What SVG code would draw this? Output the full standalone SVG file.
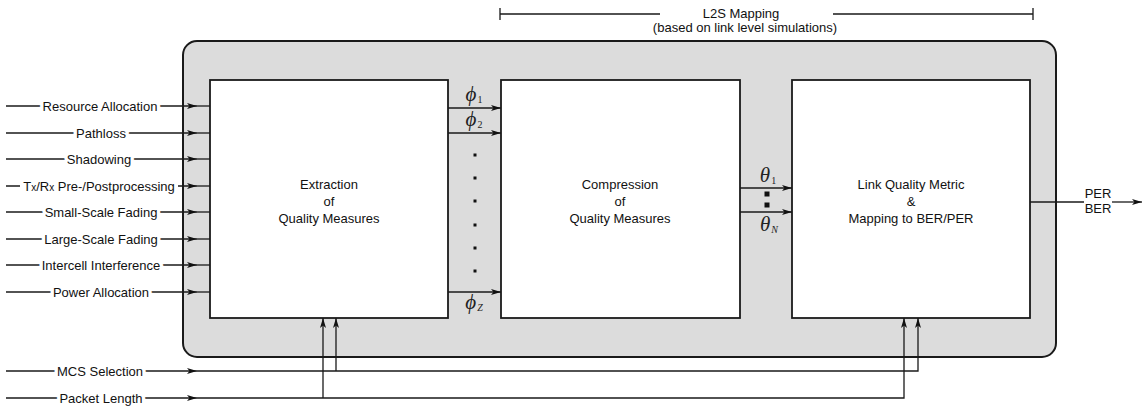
<svg xmlns="http://www.w3.org/2000/svg" width="1146" height="410" viewBox="0 0 1146 410">
<style>
.lbl{font-family:"Liberation Sans",Arial,sans-serif;font-size:13px;fill:#111;text-anchor:middle}
.halo{stroke:#fff;stroke-width:7;stroke-linejoin:round;paint-order:stroke}
.ln{fill:none;stroke:#1a1a1a;stroke-width:1.3}
.box{fill:#fff;stroke:#1a1a1a;stroke-width:1.8}
.gr{font-family:"Liberation Serif","DejaVu Serif",serif;font-style:italic;font-size:21px;fill:#222;text-anchor:middle}
.sub{font-family:"Liberation Serif","DejaVu Serif",serif;font-size:10px}
</style>
<defs>
<marker id="ah" markerWidth="11" markerHeight="7" refX="10" refY="3.5" orient="auto" markerUnits="userSpaceOnUse">
<path d="M0,0.5 L10,3.5 L0,6.5 L2.5,3.5 z" fill="#111"/>
</marker>
</defs>
<rect width="1146" height="410" fill="#fff"/>

<g id="bracket">
<path class="ln" d="M500,14 H660 M833,14 H1033 M500,8 V20 M1033,8 V20"/>
<text class="lbl" x="741" y="18" font-size="14">L2S Mapping</text>
<text class="lbl" x="745" y="32">(based on link level simulations)</text>
</g>

<g id="container">
<rect x="183" y="41" width="873" height="316" rx="14" fill="#dcdcdc" stroke="#1a1a1a" stroke-width="2"/>
</g>

<g id="extraction">
<rect class="box" x="210" y="80" width="238" height="238"/>
<text class="lbl" x="329" y="189">Extraction</text>
<text class="lbl" x="329" y="206">of</text>
<text class="lbl" x="329" y="223">Quality Measures</text>
</g>
<g id="compression">
<rect class="box" x="501" y="80" width="239" height="238"/>
<text class="lbl" x="620" y="189">Compression</text>
<text class="lbl" x="620" y="206">of</text>
<text class="lbl" x="620" y="223">Quality Measures</text>
</g>
<g id="metric">
<rect class="box" x="792" y="80" width="238" height="238"/>
<text class="lbl" x="911" y="189">Link Quality Metric</text>
<text class="lbl" x="911" y="206">&amp;</text>
<text class="lbl" x="911" y="223">Mapping to BER/PER</text>
</g>

<g id="connectors">
<!-- inputs -->
<path class="ln" marker-end="url(#ah)" d="M6,106 H197"/><path class="ln" d="M197,106 H210"/>
<path class="ln" marker-end="url(#ah)" d="M6,133 H197"/><path class="ln" d="M197,133 H210"/>
<path class="ln" marker-end="url(#ah)" d="M6,159 H197"/><path class="ln" d="M197,159 H210"/>
<path class="ln" marker-end="url(#ah)" d="M6,186 H197"/><path class="ln" d="M197,186 H210"/>
<path class="ln" marker-end="url(#ah)" d="M6,212 H197"/><path class="ln" d="M197,212 H210"/>
<path class="ln" marker-end="url(#ah)" d="M6,239 H197"/><path class="ln" d="M197,239 H210"/>
<path class="ln" marker-end="url(#ah)" d="M6,265 H197"/><path class="ln" d="M197,265 H210"/>
<path class="ln" marker-end="url(#ah)" d="M6,292 H197"/><path class="ln" d="M197,292 H210"/>
<text class="lbl halo" x="100" y="110.5">Resource Allocation</text>
<text class="lbl halo" x="101" y="137.5">Pathloss</text>
<text class="lbl halo" x="99" y="163.5">Shadowing</text>
<rect x="20" y="178" width="158" height="16" fill="#fff"/>
<text class="lbl" x="99" y="190.5">T<tspan font-size="10">x</tspan>/R<tspan font-size="10">x</tspan> Pre-/Postprocessing</text>
<text class="lbl halo" x="101" y="216.5">Small-Scale Fading</text>
<text class="lbl halo" x="101" y="243.5">Large-Scale Fading</text>
<text class="lbl halo" x="101" y="269.5">Intercell Interference</text>
<text class="lbl halo" x="101" y="296.5">Power Allocation</text>

<!-- phi arrows -->
<path class="ln" marker-end="url(#ah)" d="M448,108 H501"/>
<path class="ln" marker-end="url(#ah)" d="M448,133 H501"/>
<path class="ln" marker-end="url(#ah)" d="M448,292 H501"/>
<text class="gr" x="474" y="101">ϕ<tspan class="sub" font-style="normal" dx="1" dy="2">1</tspan></text>
<text class="gr" x="474" y="126">ϕ<tspan class="sub" font-style="normal" dx="1" dy="2">2</tspan></text>
<text class="gr" x="474" y="309">ϕ<tspan class="sub" dx="1" dy="2">Z</tspan></text>
<g fill="#111">
<rect x="473.5" y="153.5" width="3" height="3"/>
<rect x="473.5" y="176.5" width="3" height="3"/>
<rect x="473.5" y="199.5" width="3" height="3"/>
<rect x="473.5" y="223.5" width="3" height="3"/>
<rect x="473.5" y="246.5" width="3" height="3"/>
<rect x="473.5" y="269.5" width="3" height="3"/>
</g>

<!-- theta arrows -->
<path class="ln" marker-end="url(#ah)" d="M740,188 H792"/>
<path class="ln" marker-end="url(#ah)" d="M740,212 H792"/>
<text class="gr" x="768" y="182">θ<tspan class="sub" font-style="normal" dx="1" dy="2">1</tspan></text>
<text class="gr" x="769" y="231">θ<tspan class="sub" dx="1" dy="2">N</tspan></text>
<rect x="764.5" y="191.5" width="5" height="5" fill="#111"/>
<rect x="764.5" y="202.5" width="5" height="5" fill="#111"/>

<!-- output -->
<path class="ln" d="M1030,202 H1084"/>
<path class="ln" marker-end="url(#ah)" d="M1112,202 H1142"/>
<text class="lbl" x="1098" y="198">PER</text>
<text class="lbl" x="1098" y="213">BER</text>

<!-- bottom inputs -->
<path class="ln" marker-end="url(#ah)" d="M6,371 H197"/>
<path class="ln" marker-end="url(#ah)" d="M197,371 H918 V318"/>
<path class="ln" marker-end="url(#ah)" d="M336,371 V318"/>
<path class="ln" marker-end="url(#ah)" d="M6,398 H197"/>
<path class="ln" marker-end="url(#ah)" d="M197,398 H904 V318"/>
<path class="ln" marker-end="url(#ah)" d="M323,398 V318"/>
<text class="lbl halo" x="100" y="375.5">MCS Selection</text>
<text class="lbl halo" x="101" y="402.5">Packet Length</text>
</g>
</svg>
